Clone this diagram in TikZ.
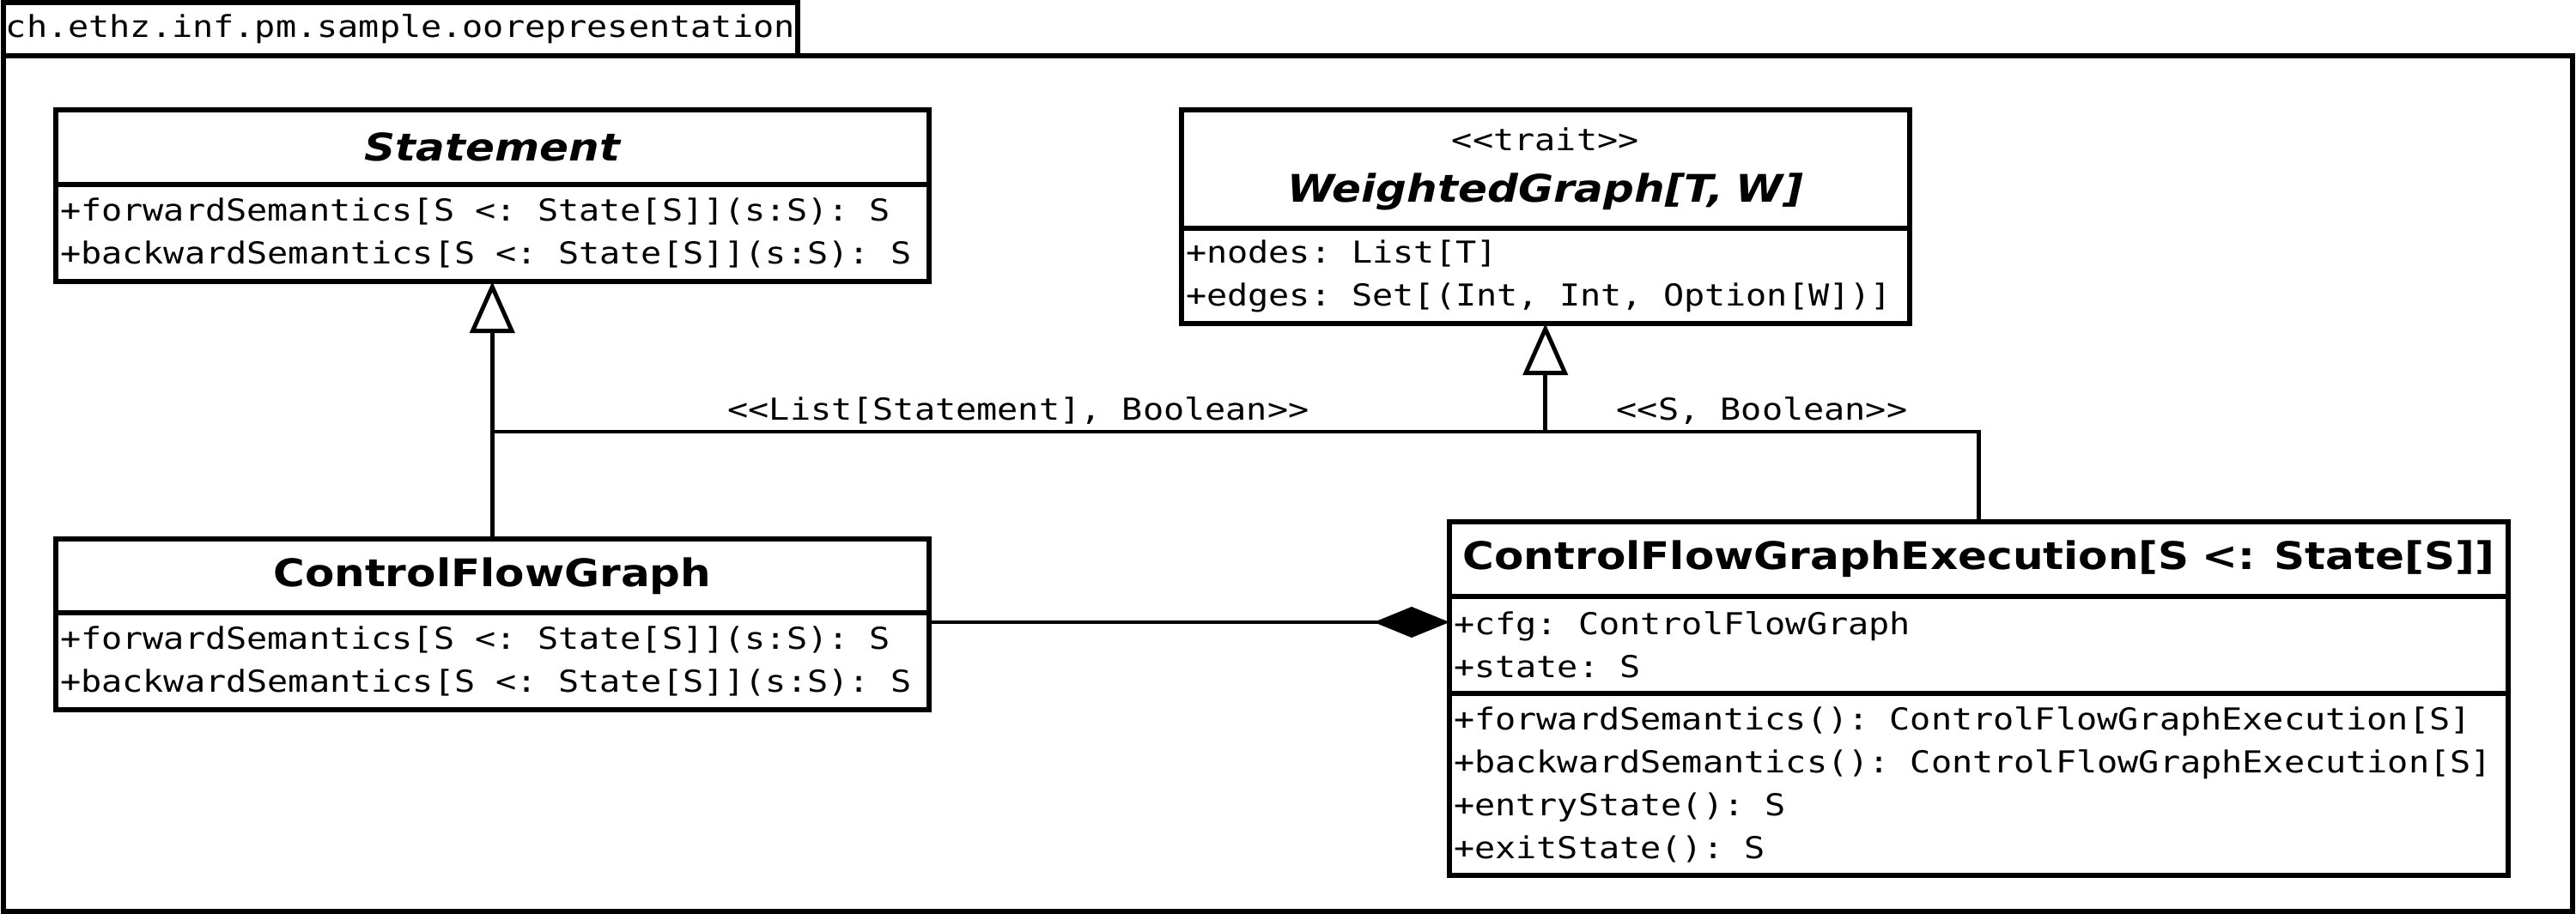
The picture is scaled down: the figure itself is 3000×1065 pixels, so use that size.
\documentclass[tikz,border=0pt]{standalone}
\usepackage{fontspec}
\setmainfont[FakeStretch=1.13]{DejaVu Sans}
\setmonofont[FakeStretch=1.142]{DejaVu Sans Mono}
\usepackage{tikz}
\usetikzlibrary{arrows.meta,positioning}

\newcommand{\memberfont}{\ttfamily\fontsize{10}{14.2}\selectfont\fontdimen2\font=\fontcharwd\font`\x\relax}
\newcommand{\classfont}{\bfseries\fontsize{12.6}{15}\selectfont}

\begin{document}
\begin{tikzpicture}[x=0.01cm,y=-0.01cm,line width=1.4pt,node distance=0pt]
		\tikzstyle{classname}=[draw, line width=1.7pt, outer sep=0pt, inner sep=0pt, align=center, font=\classfont]
		\tikzstyle{members}=[draw, line width=1.7pt, outer sep=0pt, inner xsep=0.05cm, inner ysep=0pt, align=left, font=\memberfont, execute at begin node={\spaceskip=0pt\xspaceskip=0pt}]
		\tikzstyle{stereotype label}=[font=\memberfont, anchor=base]
		\tikzstyle{generalization}=[-{Triangle[open,length=0.6cm,width=0.52cm]}]
		\tikzstyle{composition}=[-{Diamond[length=0.88cm,width=0.36cm]}]

		\useasboundingbox (0,0) rectangle (3000,1065);

		\node [draw, line width=1.7pt, anchor=north west, outer sep=0pt, inner sep=0pt, minimum width=9.24cm, minimum height=0.62cm, font=\memberfont] (pkg) at (4,3) {ch.ethz.inf.pm.sample.oorepresentation};
		\draw [line width=1.7pt] (pkg.south west) rectangle (2996,1062);

		\node [classname, anchor=north west, text width=10.16cm, minimum height=0.87cm] (stmt) at (65,128) {\itshape Statement};
		\node [members, text width=10.06cm, minimum height=1.13cm] (stmt attr) [below=of stmt] {+forwardSemantics[S <: State[S]](s:S): S\\+backwardSemantics[S <: State[S]](s:S): S};

		\node [classname, anchor=north west, text width=8.47cm, minimum height=1.38cm] (wg) at (1376,128) {{\mdseries\memberfont <{}<trait>{}>}\\[2pt]{\itshape WeightedGraph[T, W]}};
		\node [members, text width=8.37cm, minimum height=1.11cm] (wg attr) [below=of wg] {+nodes: List[T]\\+edges: Set[(Int, Int, Option[W])]};

		\node [classname, anchor=north west, text width=10.16cm, minimum height=0.86cm] (cfg) at (65,628) {ControlFlowGraph};
		\node [members, text width=10.06cm, minimum height=1.13cm] (cfg attr) [below=of cfg] {+forwardSemantics[S <: State[S]](s:S): S\\+backwardSemantics[S <: State[S]](s:S): S};

		\node [classname, anchor=north west, text width=12.32cm, minimum height=0.87cm] (cfge) at (1688,608) {ControlFlowGraphExecution[S <: State[S]]};
		\node [members, text width=12.22cm, minimum height=1.13cm] (cfge attr) [below=of cfge] {+cfg: ControlFlowGraph\\+state: S};
		\node [members, text width=12.22cm, minimum height=2.12cm] (cfge ops) [below=of cfge attr] {+forwardSemantics(): ControlFlowGraphExecution[S]\\+backwardSemantics(): ControlFlowGraphExecution[S]\\+entryState(): S\\+exitState(): S};

		\coordinate (bus) at (0,503);
		\coordinate (comp) at (0,725);
		\draw [generalization] (cfg.north) -- (stmt attr.south);
		\draw (stmt attr.south |- bus) -- (cfge.north |- bus) -- (cfge.north);
		\draw [generalization] (wg attr.south |- bus) -- (wg attr.south);
		\draw [composition] (cfg attr.east |- comp) -- (cfge attr.west |- comp);

		\node [stereotype label] (lbl list) at (1186,490) {<{}<List[Statement], Boolean>{}>};
		\node [stereotype label] (lbl state) at (2052,490) {<{}<S, Boolean>{}>};
	\end{tikzpicture}
\end{document}
